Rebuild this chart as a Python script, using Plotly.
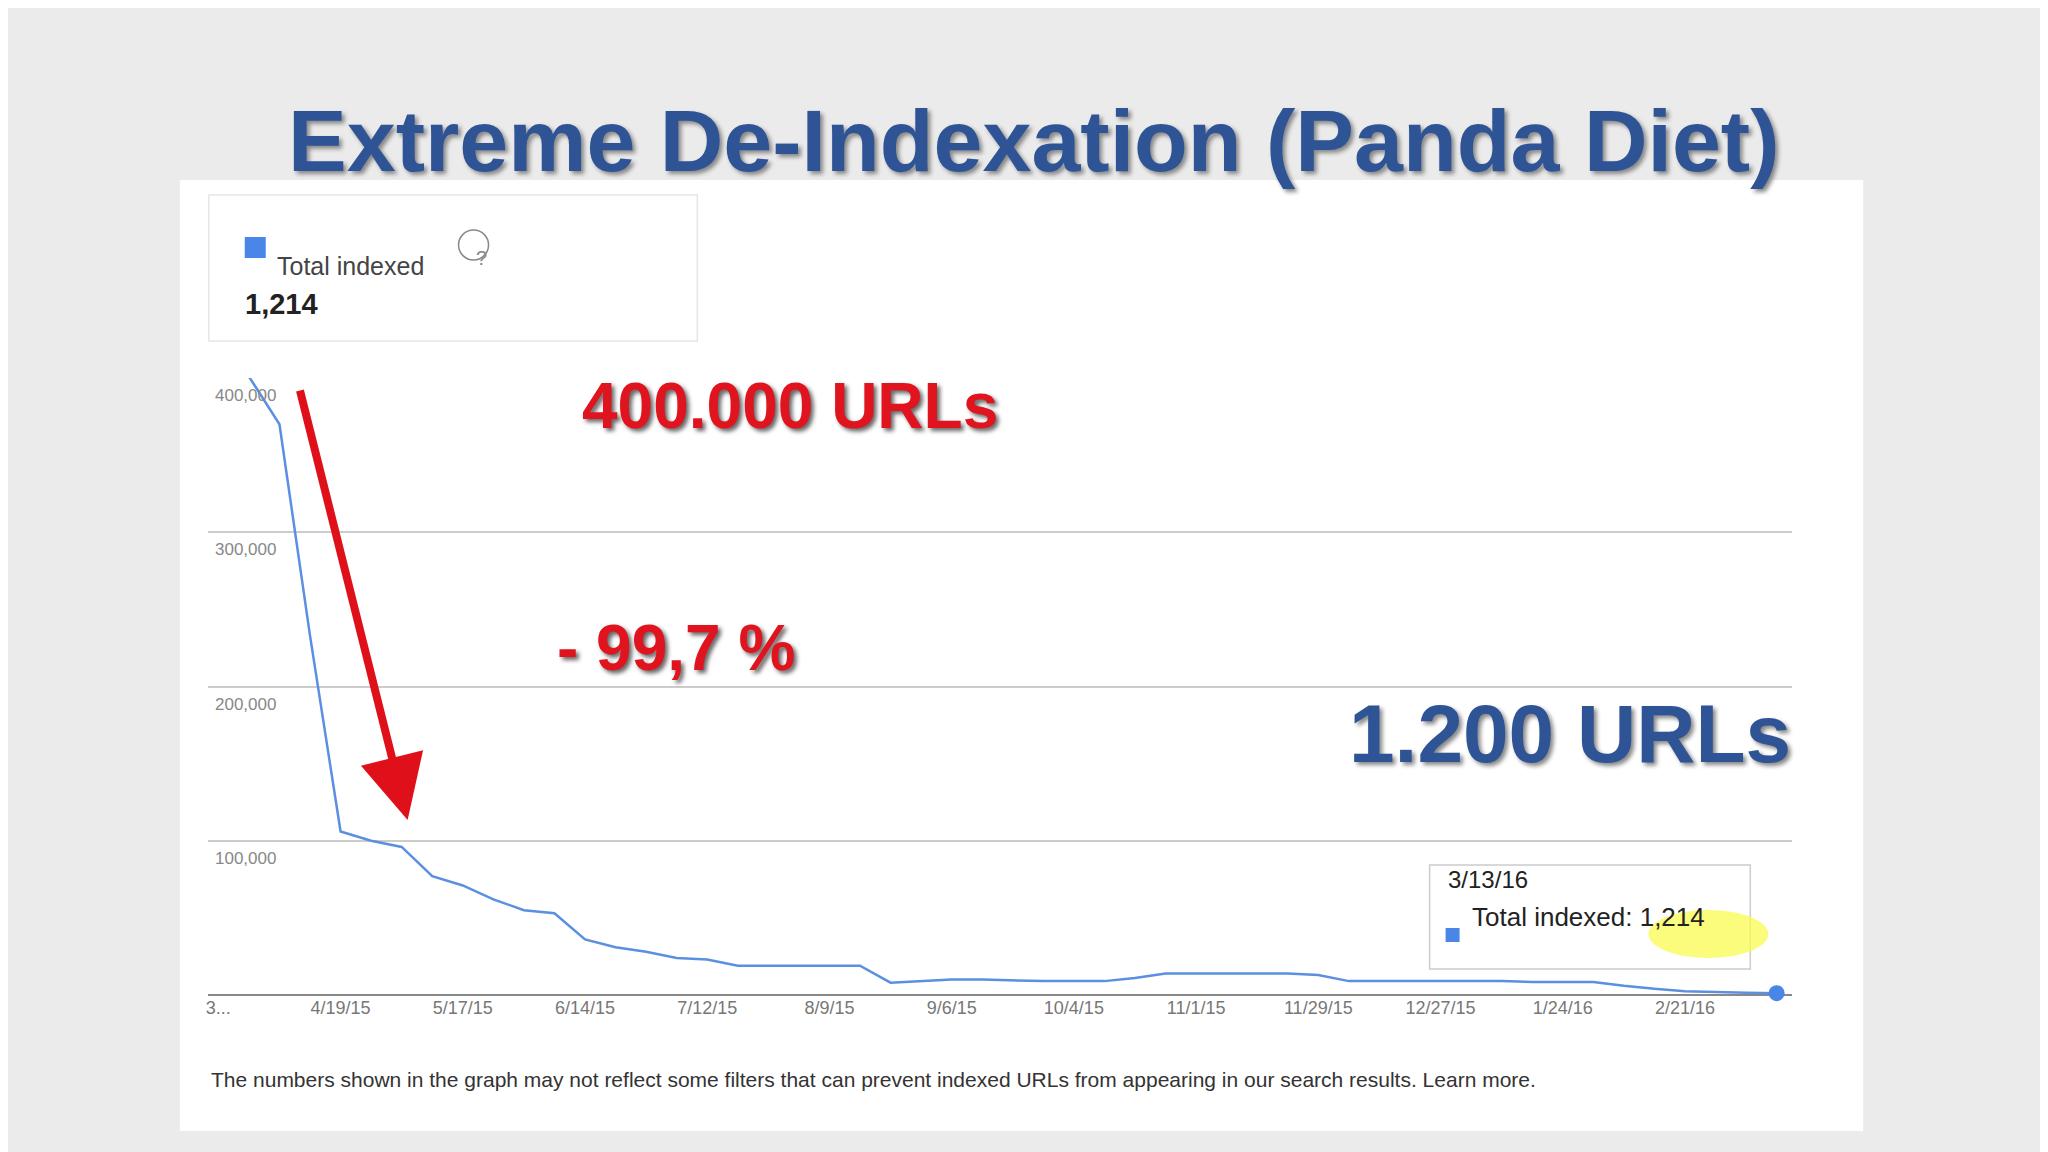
import pandas as pd
import plotly.graph_objects as go

# weekly "Total indexed" counts, 3/22/15 .. 3/13/16
dates = pd.date_range("2015-03-22", periods=52, freq="7D")
indexed = [401000, 401000, 370000, 233000, 106000, 100000, 96000, 77000, 71000, 62000,
           55000, 53000, 36000, 31000, 28000, 24000, 23000, 19000, 19000, 19000,
           19000, 19000, 8000, 9000, 10000, 10000, 9500, 9000, 9000, 9000,
           11000, 14000, 14000, 14000, 14000, 14000, 13000, 9000, 9000, 9000,
           9000, 9000, 9000, 8500, 8500, 8500, 6000, 4000, 2500, 1800, 1500, 1214]
tick_dates = pd.date_range("2015-03-22", periods=13, freq="28D")
tick_text = ["3..."] + [f"{d.month}/{d.day}/{d.strftime('%y')}" for d in tick_dates[1:]]
y_ticks = [100000, 200000, 300000, 400000]

W, H = 2048, 1152
def px(x): return x / W
def py(y): return 1 - y / H

fig = go.Figure()
fig.add_trace(go.Scatter(x=dates, y=indexed, mode="lines", line=dict(color="#5b8fe0", width=2.5),
                         cliponaxis=False, hoverinfo="skip"))
fig.add_trace(go.Scatter(x=[dates[-1]], y=[indexed[-1]], mode="markers", cliponaxis=False,
                         marker=dict(color="#4a86e8", size=16), hoverinfo="skip"))

shapes = [
    dict(type="rect", xref="paper", yref="paper", x0=px(170), x1=px(1855), y0=py(1123), y1=py(172),
         fillcolor="white", line=dict(width=0), layer="below"),
    dict(type="rect", xref="paper", yref="paper", x0=px(199), x1=px(688), y0=py(333), y1=py(187),
         fillcolor="white", line=dict(color="#e6e6e6", width=1.5), layer="below"),
    dict(type="rect", xref="paper", yref="paper", x0=px(235), x1=px(256), y0=py(250), y1=py(229),
         fillcolor="#4a86e8", line=dict(width=0)),
    dict(type="circle", xref="paper", yref="paper", x0=px(449), x1=px(479), y0=py(252), y1=py(222),
         line=dict(color="#888", width=1.5)),
    dict(type="rect", xref="paper", yref="paper", x0=px(1421), x1=px(1742), y0=py(961), y1=py(857),
         fillcolor="white", line=dict(color="#cccccc", width=1.5)),
    dict(type="circle", xref="paper", yref="paper", x0=px(1640), x1=px(1760), y0=py(950), y1=py(902),
         fillcolor="rgba(250,250,80,0.75)", line=dict(width=0)),
    dict(type="rect", xref="paper", yref="paper", x0=px(1437), x1=px(1451), y0=py(934), y1=py(920),
         fillcolor="#4a86e8", line=dict(width=0)),
]

ann = [
    dict(text="<b>Extreme De-Indexation (Panda Diet)</b>", x=0.5, y=py(81), font=dict(size=88, color="#2f5496",
         family="Liberation Sans, Arial", shadow="3px 3px 4px #888")),
    dict(text="Total indexed", x=px(265), y=py(242), xanchor="left", font=dict(size=25, color="#444")),
    dict(text="?", x=px(464), y=py(237), font=dict(size=20, color="#888")),
    dict(text="<b>1,214</b>", x=px(233), y=py(278), xanchor="left", font=dict(size=29, color="#222")),
    dict(text="3/13/16", x=px(1437), y=py(887), xanchor="left", font=dict(size=24, color="#222")),
    dict(text="Total indexed: 1,214", x=px(1461), y=py(926), xanchor="left", font=dict(size=26, color="#222")),
    dict(text="<b>400.000 URLs</b>", x=px(571), y=py(398), font=dict(size=64, color="#e0141e",
         shadow="3px 3px 4px #666")),
    dict(text="<b>- 99,7 %</b>", x=px(546), y=py(640), font=dict(size=64, color="#e0141e",
         shadow="3px 3px 4px #666")),
    dict(text="<b>1.200 URLs</b>", x=px(1785), y=py(773), xanchor="right", font=dict(size=82, color="#2f5496",
         shadow="3px 3px 4px #888")),
    dict(text="The numbers shown in the graph may not reflect some filters that can prevent indexed URLs from "
              "appearing in our search results. Learn more.", x=px(199), y=py(1085), xanchor="left",
         font=dict(size=21, color="#333")),
    dict(text="", x=px(398), y=py(812), showarrow=True, ax=-108, ay=-431, arrowcolor="#e0101a",
         arrowwidth=8, arrowhead=2, arrowsize=1.6),
]
for a in ann:
    a.setdefault("xref", "paper"); a.setdefault("yref", "paper"); a.setdefault("showarrow", False)
    a.setdefault("font", {}).setdefault("family", "Liberation Sans, Arial")
for v in y_ticks:
    ann.append(dict(text=f"{v:,}", xref="paper", yref="y", x=px(203), y=v, yshift=-6, xanchor="left",
                    yanchor="top", showarrow=False, font=dict(size=17, color="#888", family="Liberation Sans")))

fig.update_layout(
    width=W, height=H, margin=dict(l=0, r=0, t=0, b=0), showlegend=False,
    paper_bgcolor="#ebebeb", plot_bgcolor="rgba(0,0,0,0)",
    xaxis=dict(domain=[px(198), px(1784)], range=["2015-03-19 14:00", "2016-03-16 14:00"],
               tickvals=tick_dates, ticktext=tick_text, showgrid=False, ticks="",
               tickfont=dict(size=18, color="#777", family="Liberation Sans"), showline=False, zeroline=False),
    yaxis=dict(domain=[py(987), py(370)], range=[0, 400000], tickvals=[0] + y_ticks, showticklabels=False,
               gridcolor="#cccccc", gridwidth=1.5, zeroline=True, zerolinecolor="#888", zerolinewidth=2),
    shapes=shapes, annotations=ann,
)
fig.write_html("out.html")
